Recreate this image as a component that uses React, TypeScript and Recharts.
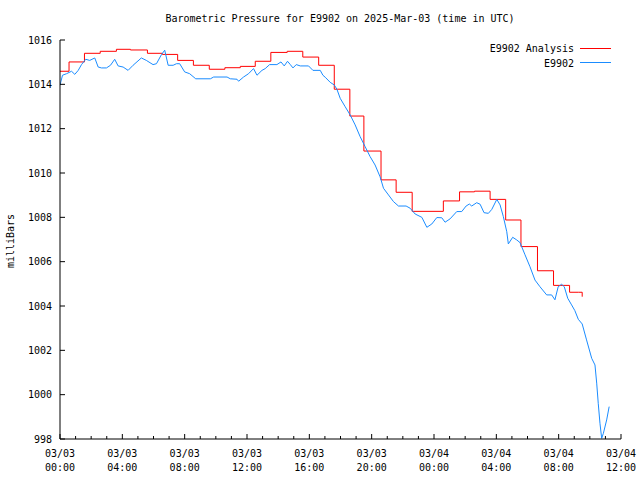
import React from 'react';
import { LineChart, Line, XAxis, YAxis, Legend } from 'recharts';

// hours since 03/03 00:00 UTC
const analysisHours = [0, 0.58, 1.57, 2.58, 3.62, 4.52, 5.61, 6.57, 7.55, 8.56, 9.58, 10.58, 11.57, 12.53, 13.53, 14.58, 15.58, 16.6, 17.6, 18.6, 19.5, 20.6, 21.57, 22.6, 24.6, 25.64, 26.6, 27.6, 28.6, 29.58, 30.64, 31.67, 32.7, 33.26, 33.51];
const analysisMb = [1014.59, 1015.01, 1015.4, 1015.49, 1015.58, 1015.55, 1015.4, 1015.35, 1015.08, 1014.86, 1014.68, 1014.75, 1014.81, 1015.04, 1015.44, 1015.49, 1015.23, 1014.86, 1013.78, 1012.57, 1010.99, 1009.69, 1009.13, 1008.27, 1008.74, 1009.15, 1009.18, 1008.81, 1007.88, 1006.68, 1005.59, 1004.93, 1004.62, 1004.62, 1004.42];

const obsHours = [0, 0.16, 0.42, 0.74, 0.95, 1.17, 1.38, 1.65, 1.91, 2.23, 2.45, 2.66, 2.98, 3.24, 3.51, 3.73, 4.05, 4.37, 4.69, 5.22, 5.54, 5.97, 6.19, 6.51, 6.72, 6.94, 7.26, 7.47, 7.68, 8.0, 8.32, 8.71, 9.65, 9.86, 10.72, 10.93, 11.36, 11.46, 11.78, 12.1, 12.42, 12.64, 12.96, 13.17, 13.45, 13.92, 14.18, 14.39, 14.6, 14.78, 14.95, 15.16, 15.42, 15.95, 16.23, 16.7, 16.87, 17.02, 17.34, 17.6, 17.77, 17.98, 18.3, 18.62, 18.94, 19.26, 19.58, 19.9, 20.22, 20.54, 20.76, 21.08, 21.4, 21.72, 22.21, 22.47, 22.79, 23.22, 23.54, 23.86, 24.18, 24.5, 24.71, 25.03, 25.46, 25.78, 26.06, 26.27, 26.42, 26.74, 26.96, 27.21, 27.49, 27.71, 28.03, 28.24, 28.45, 28.67, 28.77, 29.05, 29.31, 29.52, 29.84, 30.16, 30.48, 30.8, 31.23, 31.55, 31.76, 31.97, 32.19, 32.36, 32.58, 32.83, 33.04, 33.26, 33.51, 33.79, 34.12, 34.33, 34.44, 34.54, 34.65, 34.76, 34.87, 35.08, 35.24];
const obsMb = [1013.96, 1014.41, 1014.48, 1014.59, 1014.45, 1014.63, 1014.89, 1015.13, 1015.08, 1015.19, 1014.78, 1014.74, 1014.74, 1014.86, 1015.13, 1014.83, 1014.78, 1014.63, 1014.86, 1015.19, 1015.08, 1014.89, 1014.93, 1015.34, 1015.54, 1014.86, 1014.86, 1014.93, 1014.93, 1014.56, 1014.48, 1014.25, 1014.25, 1014.33, 1014.33, 1014.25, 1014.23, 1014.14, 1014.33, 1014.48, 1014.71, 1014.41, 1014.63, 1014.71, 1014.89, 1014.89, 1015.01, 1014.83, 1015.04, 1014.89, 1014.74, 1014.89, 1014.83, 1014.83, 1014.63, 1014.63, 1014.41, 1014.32, 1014.09, 1013.97, 1013.78, 1013.37, 1012.99, 1012.62, 1012.17, 1011.64, 1011.19, 1010.74, 1010.36, 1009.83, 1009.31, 1009.01, 1008.71, 1008.51, 1008.51, 1008.41, 1008.15, 1008.0, 1007.55, 1007.7, 1007.99, 1007.98, 1007.78, 1007.93, 1008.26, 1008.26, 1008.51, 1008.6, 1008.51, 1008.66, 1008.59, 1008.21, 1008.18, 1008.36, 1008.81, 1008.56, 1008.03, 1007.35, 1006.8, 1007.1, 1006.98, 1006.86, 1006.31, 1005.77, 1005.17, 1004.87, 1004.5, 1004.5, 1004.28, 1004.87, 1004.98, 1004.87, 1004.35, 1004.05, 1003.79, 1003.4, 1003.19, 1002.47, 1001.64, 1001.34, 1000.52, 999.61, 998.71, 998.03, 998.26, 998.86, 999.46];

const hourTicks = [0, 1, 2, 3, 4, 5, 6, 7, 8, 9, 10, 11, 12, 13, 14, 15, 16, 17, 18, 19, 20, 21, 22, 23, 24, 25, 26, 27, 28, 29, 30, 31, 32, 33, 34, 35, 36];
const majorHours = [0, 4, 8, 12, 16, 20, 24, 28, 32, 36];
const tickDates = ['03/03', '03/03', '03/03', '03/03', '03/03', '03/03', '03/04', '03/04', '03/04', '03/04'];
const tickTimes = ['00:00', '04:00', '08:00', '12:00', '16:00', '20:00', '00:00', '04:00', '08:00', '12:00'];
const mbTicks = [998, 1000, 1002, 1004, 1006, 1008, 1010, 1012, 1014, 1016];

const analysisData = analysisHours.map((t, i) => ({ t, mb: analysisMb[i] }));
const obsData = obsHours.map((t, i) => ({ t, mb: obsMb[i] }));

const FONT = '"DejaVu Sans Mono", monospace';
const RED = '#ff0000';
const BLUE = '#1a8cff';

const BottomTick = (props: any) => {
  const { x, y, payload } = props;
  const idx = majorHours.indexOf(payload.value);
  const len = idx >= 0 ? 5 : 3;
  return (
    <g>
      <line x1={x} y1={y} x2={x} y2={y - len} stroke="#000" />
      {idx >= 0 && (
        <text x={x} y={y + 18} textAnchor="middle" fontFamily={FONT} fontSize={10} fill="#000">
          <tspan x={x}>{tickDates[idx]}</tspan>
          <tspan x={x} dy={14}>{tickTimes[idx]}</tspan>
        </text>
      )}
    </g>
  );
};

const TopTick = (props: any) => {
  const { x, y, payload } = props;
  const len = majorHours.includes(payload.value) ? 5 : 3;
  return <line x1={x} y1={y} x2={x} y2={y + len} stroke="#000" />;
};

const LeftTick = (props: any) => {
  const { x, y, payload } = props;
  return (
    <g>
      <line x1={x} y1={y} x2={x + 5} y2={y} stroke="#000" />
      <text x={x - 8} y={y} dy={3.5} textAnchor="end" fontFamily={FONT} fontSize={10} fill="#000">
        {payload.value}
      </text>
    </g>
  );
};

const RightTick = (props: any) => {
  const { x, y } = props;
  return <line x1={x} y1={y} x2={x - 5} y2={y} stroke="#000" />;
};

const KeyBox = () => (
  <svg width={140} height={30}>
    <text x={94} y={11.5} textAnchor="end" fontFamily={FONT} fontSize={10} fill="#000">E9902 Analysis</text>
    <line x1={100} y1={8.5} x2={131} y2={8.5} stroke={RED} />
    <text x={94} y={26.5} textAnchor="end" fontFamily={FONT} fontSize={10} fill="#000">E9902</text>
    <line x1={100} y1={22.5} x2={131} y2={22.5} stroke={BLUE} />
  </svg>
);

export default function App() {
  return (
    <div style={{ position: 'absolute', left: 0, top: 0, width: 640, height: 480, background: '#fff' }}>
      <div
        style={{
          position: 'absolute',
          top: 13,
          left: 340,
          transform: 'translateX(-50%)',
          whiteSpace: 'nowrap',
          fontFamily: FONT,
          fontSize: 10,
          lineHeight: '12px',
          color: '#000',
        }}
      >
        Barometric Pressure for E9902 on 2025-Mar-03 (time in UTC)
      </div>
      <LineChart width={640} height={480} margin={{ top: 40, right: 19, bottom: 0, left: 0 }}>
        <XAxis
          dataKey="t"
          type="number"
          domain={[0, 36]}
          allowDataOverflow
          ticks={hourTicks}
          interval={0}
          height={41}
          tickLine={false}
          tickSize={0}
          tickMargin={0}
          tick={<BottomTick />}
          axisLine={{ stroke: '#000' }}
        />
        <XAxis
          xAxisId="top"
          orientation="top"
          dataKey="t"
          type="number"
          domain={[0, 36]}
          allowDataOverflow
          ticks={hourTicks}
          interval={0}
          height={0}
          tickLine={false}
          tickSize={0}
          tickMargin={0}
          tick={<TopTick />}
          axisLine={{ stroke: '#000' }}
        />
        <YAxis
          type="number"
          domain={[998, 1016]}
          allowDataOverflow
          ticks={mbTicks}
          interval={0}
          width={60}
          tickLine={false}
          tickSize={0}
          tickMargin={0}
          tick={<LeftTick />}
          axisLine={{ stroke: '#000' }}
          label={() => (
            <text x={10} y={241} transform="rotate(-90 10 241)" textAnchor="middle" dy={3.5} fontFamily={FONT} fontSize={10} fill="#000">
              milliBars
            </text>
          )}
        />
        <YAxis
          yAxisId="right"
          orientation="right"
          type="number"
          domain={[998, 1016]}
          allowDataOverflow
          ticks={mbTicks}
          interval={0}
          width={0}
          tickLine={false}
          tickSize={0}
          tickMargin={0}
          tick={<RightTick />}
          axisLine={{ stroke: '#000' }}
        />
        <Legend
          layout="vertical"
          align="center"
          verticalAlign="middle"
          content={<KeyBox />}
          wrapperStyle={{ position: 'absolute', top: 40, left: 480, width: 140, height: 30 }}
        />
        <Line
          data={analysisData}
          dataKey="mb"
          name="E9902 Analysis"
          type="stepAfter"
          stroke={RED}
          strokeWidth={1}
          dot={false}
          isAnimationActive={false}
        />
        <Line
          data={obsData}
          dataKey="mb"
          name="E9902"
          type="linear"
          stroke={BLUE}
          strokeWidth={1}
          dot={false}
          isAnimationActive={false}
        />
      </LineChart>
    </div>
  );
}
